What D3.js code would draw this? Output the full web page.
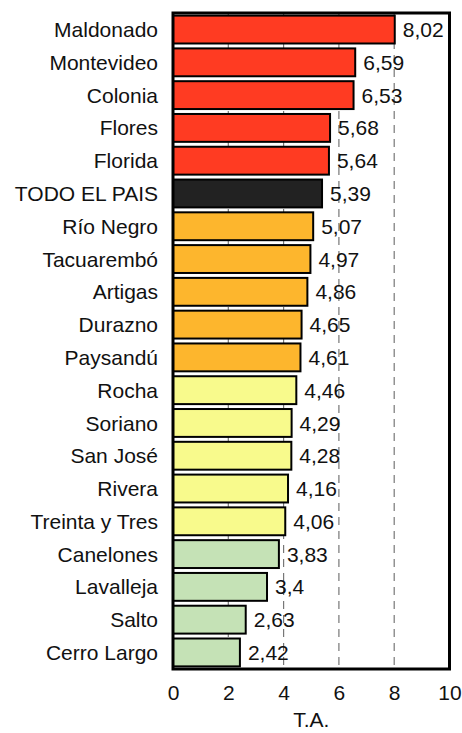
<!DOCTYPE html>
<html><head><meta charset="utf-8">
<script src="https://cdn.jsdelivr.net/npm/d3@7"></script>
<style>body{margin:0;background:#fff;} text{font-family:"Liberation Sans",Arial,sans-serif;}</style>
</head><body><svg id="c" width="462" height="733"></svg>
<script>
const categories = ["Maldonado","Montevideo","Colonia","Flores","Florida","TODO EL PAIS","Río Negro","Tacuarembó","Artigas","Durazno","Paysandú","Rocha","Soriano","San José","Rivera","Treinta y Tres","Canelones","Lavalleja","Salto","Cerro Largo"];
const values = [8.02,6.59,6.53,5.68,5.64,5.39,5.07,4.97,4.86,4.65,4.61,4.46,4.29,4.28,4.16,4.06,3.83,3.4,2.63,2.42];
const labels = ["8,02","6,59","6,53","5,68","5,64","5,39","5,07","4,97","4,86","4,65","4,61","4,46","4,29","4,28","4,16","4,06","3,83","3,4","2,63","2,42"];
const groups = ["r","r","r","r","r","k","o","o","o","o","o","y","y","y","y","y","g","g","g","g"];
const xTicks = [0,2,4,6,8,10];
const gridTicks = [2,4,6,8];
const colors = {r:"#ff3b22",k:"#222222",o:"#fdb62d",y:"#f8fa8c",g:"#c5e2b6"};

const svg = d3.select("#c");
const L=173, R=449.5, T=13, B=669;
const FS = 21;
const x = d3.scaleLinear().domain([0,10]).range([L,R]);
const y = d3.scaleBand().domain(categories).range([T,B]).paddingInner(0.15).paddingOuter(0.08);

svg.append("g").selectAll("line").data(gridTicks).join("line")
  .attr("x1",d=>x(d)).attr("x2",d=>x(d)).attr("y1",T).attr("y2",B)
  .attr("stroke","#777").attr("stroke-width",1.2).attr("stroke-dasharray","8,6");

svg.append("g").selectAll("rect").data(categories).join("rect")
  .attr("x",x(0)).attr("y",d=>y(d)).attr("width",(d,i)=>x(values[i])-x(0)).attr("height",y.bandwidth())
  .attr("fill",(d,i)=>colors[groups[i]]).attr("stroke","#000").attr("stroke-width",2);

svg.append("g").selectAll("text").data(categories).join("text")
  .attr("x",(d,i)=>x(values[i])+8).attr("y",d=>y(d)+y.bandwidth()/2)
  .attr("dy","0.36em").attr("font-size",FS).attr("fill","#111").text((d,i)=>labels[i]);

svg.append("g").selectAll("text").data(categories).join("text")
  .attr("x",158).attr("y",d=>y(d)+y.bandwidth()/2).attr("dy","0.36em")
  .attr("text-anchor","end").attr("font-size",FS).attr("fill","#111").text(d=>d);

svg.append("rect").attr("x",L).attr("y",T).attr("width",R-L).attr("height",B-T)
  .attr("fill","none").attr("stroke","#000").attr("stroke-width",3);

const ax = svg.append("g").attr("transform",`translate(0,${B})`)
  .call(d3.axisBottom(x).tickValues(xTicks).tickSize(0).tickPadding(16));
ax.select(".domain").remove();
ax.selectAll("text").attr("font-size",FS).attr("fill","#111").attr("font-family","Liberation Sans, Arial, sans-serif");

svg.append("text").attr("x",(L+R)/2).attr("y",727).attr("text-anchor","middle")
  .attr("font-size",FS).attr("fill","#111").text("T.A.");
</script></body></html>
